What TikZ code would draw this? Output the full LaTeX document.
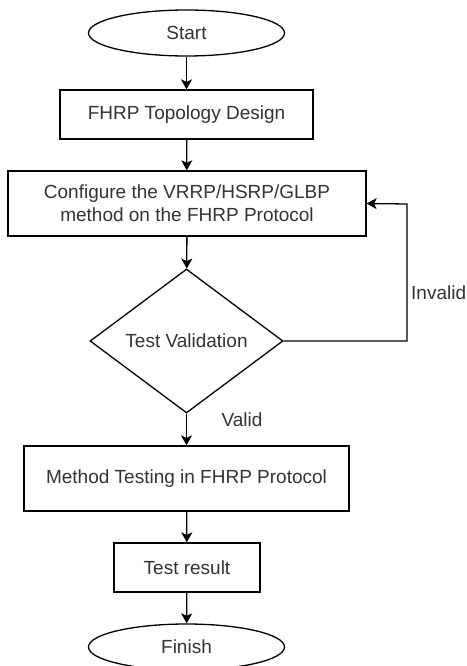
\documentclass[tikz,border=0pt]{standalone}
\usepackage{fontspec}
\setmainfont{Liberation Sans}
\usepackage{xcolor}
\usetikzlibrary{arrows.meta, shapes.geometric}
\definecolor{flowText}{HTML}{333333}

\begin{document}
\begin{tikzpicture}[x=1pt,y=-1pt,
  every node/.style={font=\fontsize{19}{23}\selectfont,text=flowText,inner sep=0pt},
  procbox/.style={draw,line width=1.3pt,rectangle,align=center},
  termbox/.style={draw,line width=1.3pt,ellipse,minimum width=196pt,minimum height=46pt},
  decbox/.style={draw,line width=1.3pt,diamond},
  flow/.style={draw,line width=1.3pt,-{Stealth[length=10pt,width=11pt,inset=2.5pt]}}]
\useasboundingbox (0,0) rectangle (466,666);
% shapes
\node[termbox] (start) at (186.5,33) {Start};
\node[procbox,minimum width=253pt,minimum height=49pt] (design) at (186.5,114.5) {FHRP Topology Design};
\node[procbox,minimum width=358pt,minimum height=65pt] (cfg) at (187,203.5) {Configure the VRRP/HSRP/GLBP\\method on the FHRP Protocol};
\node[decbox,minimum width=193pt,minimum height=144pt] (val) at (186.5,341) {Test Validation};
\node[procbox,minimum width=325pt,minimum height=65pt] (meth) at (186.5,478.5) {Method Testing in FHRP Protocol};
\node[procbox,minimum width=146pt,minimum height=49pt] (res) at (187,567.5) {Test result};
\node[termbox] (fin) at (186.5,647) {Finish};
\coordinate (bend) at (407,204);
% connectors
\draw[flow] (start) -- (design);
\draw[flow] (design) -- (cfg);
\draw[flow] (cfg) -- (val);
\draw[flow] (val) -- (meth);
\draw[flow] (meth) -- (res);
\draw[flow] (res) -- (fin);
\draw[flow] (val.east) -| (bend) -- (cfg.east);
% labels
\node (lvalid) at (242,420) {Valid};
\node[anchor=west] (linvalid) at (411,293) {Invalid};
\end{tikzpicture}
\end{document}
